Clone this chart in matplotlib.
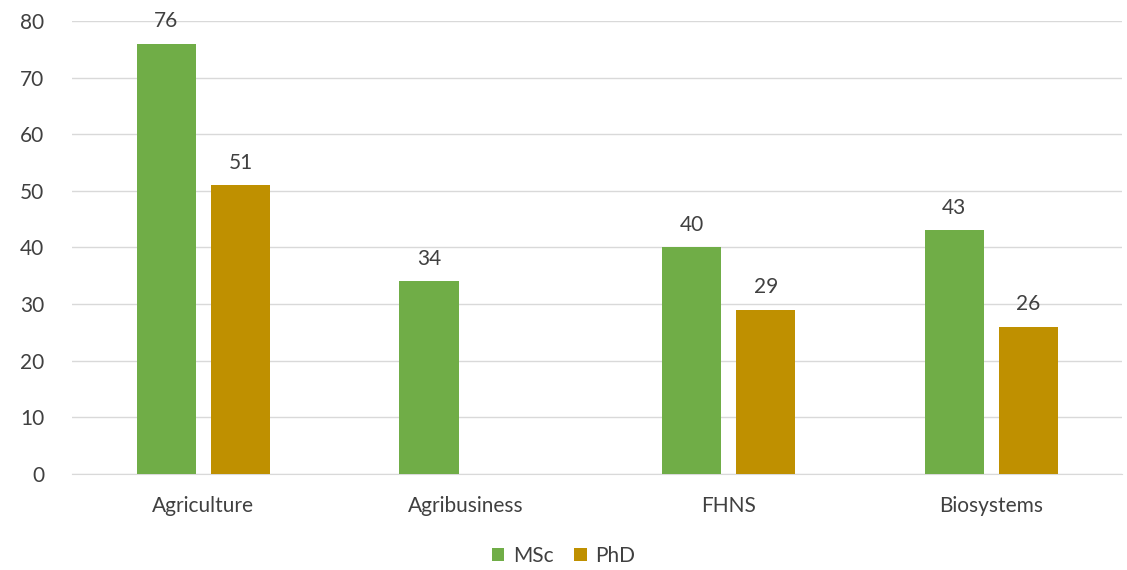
import matplotlib.pyplot as plt
import numpy as np

categories = ['Agriculture', 'Agribusiness', 'FHNS', 'Biosystems']
msc = [76, 34, 40, 43]
phd = [51, None, 29, 26]

plt.rcParams['font.family'] = ['Lato', 'DejaVu Sans']

fig = plt.figure(figsize=(11.27, 5.7), dpi=100)
ax = fig.add_axes([0.064, 0.1684, 0.932, 0.795])

x = np.arange(len(categories))
w = 0.225
off = 0.141
green = '#70AD47'
gold = '#BF9000'
txt = '#404040'
fs = 15

ax.bar(x - off, msc, w, color=green, label='MSc', zorder=3)
phd_vals = [v if v is not None else 0 for v in phd]
ax.bar(x + off, phd_vals, w, color=gold, label='PhD', zorder=3)

for i, v in enumerate(msc):
    ax.text(x[i] - off, v + 2.2, str(v), ha='center', va='bottom', fontsize=fs, color=txt)
for i, v in enumerate(phd):
    if v is not None:
        ax.text(x[i] + off, v + 2.2, str(v), ha='center', va='bottom', fontsize=fs, color=txt)

ax.set_xlim(-0.5, len(categories) - 0.5)
ax.set_ylim(0, 80)
ax.set_yticks(range(0, 81, 10))
ax.set_xticks(x)
ax.set_xticklabels(categories)
ax.tick_params(axis='both', length=0, labelsize=fs, colors=txt)
ax.tick_params(axis='x', pad=16)
ax.tick_params(axis='y', pad=20)
ax.yaxis.grid(True, color='#D9D9D9', linewidth=1, zorder=0)
for s in ['top', 'right', 'left']:
    ax.spines[s].set_visible(False)
ax.spines['bottom'].set_color('#D9D9D9')

fig.legend(loc='lower center', ncol=2, frameon=False, fontsize=fs,
           bbox_to_anchor=(0.5, -0.025), handlelength=0.6, handleheight=0.6,
           columnspacing=1.0, handletextpad=0.4, labelcolor=txt)

fig.savefig('out.png', dpi=100)
